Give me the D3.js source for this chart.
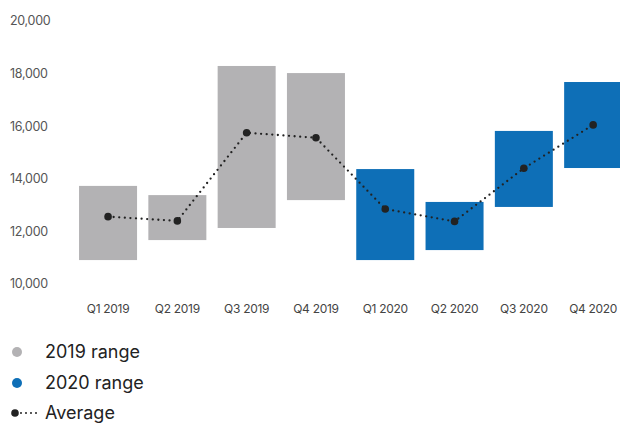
<!DOCTYPE html>
<html>
<head>
<meta charset="utf-8">
<script src="https://cdn.jsdelivr.net/npm/d3@7"></script>
<style>
  body { margin: 0; background: #fff; }
  svg { display: block; font-family: 'Inter', 'Open Sans', sans-serif; }
</style>
</head>
<body>
<div id="chart"></div>
<script>
'use strict';

const width = 620;
const height = 423;

// data
const quarters = ['Q1 2019', 'Q2 2019', 'Q3 2019', 'Q4 2019', 'Q1 2020', 'Q2 2020', 'Q3 2020', 'Q4 2020'];
const years = ['2019', '2019', '2019', '2019', '2020', '2020', '2020', '2020'];
const lows = [10910, 11670, 12130, 13190, 10910, 11290, 12930, 14410];
const highs = [13730, 13380, 18290, 18020, 14370, 13120, 15820, 17680];
const averages = [12560, 12400, 15750, 15560, 12850, 12380, 14400, 16050];
const yTicks = [10000, 12000, 14000, 16000, 18000, 20000];

const colors = { '2019': '#b3b2b4', '2020': '#0e6fb7' };

const rows = quarters.map((q, i) => ({ q, year: years[i], low: lows[i], high: highs[i], avg: averages[i] }));

const x = d3.scaleBand()
    .domain(quarters)
    .range([73.4, 627.8])
    .paddingInner(0.163)
    .paddingOuter(0.0815);

const y = d3.scaleLinear()
    .domain([10000, 20000])
    .range([284, 21]);

let svg = d3.select('#chart').append('svg')
    .attr('width', width)
    .attr('height', height);

// y tick labels (no axis line)
svg.append('g').selectAll('text')
    .data(yTicks)
    .enter().append('text')
    .attr('x', 10)
    .attr('y', d => y(d))
    .attr('dy', '0.35em')
    .attr('font-size', 12.5)
    .attr('fill', '#555')
    .attr('letter-spacing', '-0.3')
    .text(d3.format(','));

// range bars
svg.append('g').selectAll('rect')
    .data(rows)
    .enter().append('rect')
    .attr('x', d => x(d.q))
    .attr('width', x.bandwidth())
    .attr('y', d => y(d.high))
    .attr('height', d => y(d.low) - y(d.high))
    .attr('fill', d => colors[d.year]);

// x labels
svg.append('g').selectAll('text')
    .data(quarters)
    .enter().append('text')
    .attr('x', d => x(d) + x.bandwidth() / 2)
    .attr('y', 309)
    .attr('dy', '0.35em')
    .attr('text-anchor', 'middle')
    .attr('font-size', 12)
    .attr('fill', '#444')
    .attr('letter-spacing', '-0.3')
    .text(d => d);

// average line
const line = d3.line()
    .x(d => x(d.q) + x.bandwidth() / 2)
    .y(d => y(d.avg));

svg.append('path')
    .datum(rows)
    .attr('d', line)
    .attr('fill', 'none')
    .attr('stroke', '#222')
    .attr('stroke-width', 2.3)
    .attr('stroke-linecap', 'round')
    .attr('stroke-dasharray', '0 5.6');

svg.append('g').selectAll('circle')
    .data(rows)
    .enter().append('circle')
    .attr('cx', d => x(d.q) + x.bandwidth() / 2)
    .attr('cy', d => y(d.avg))
    .attr('r', 3.8)
    .attr('fill', '#222');

// legend
const legend = svg.append('g');
const legendItems = [
    { label: '2019 range', color: colors['2019'], y: 352 },
    { label: '2020 range', color: colors['2020'], y: 383 }
];

legendItems.forEach(item => {
    legend.append('circle')
        .attr('cx', 17)
        .attr('cy', item.y)
        .attr('r', 5)
        .attr('fill', item.color);
    legend.append('text')
        .attr('x', 45)
        .attr('y', item.y)
        .attr('dy', '0.35em')
        .attr('font-size', 18)
        .attr('fill', '#222')
        .text(item.label);
});

legend.append('circle')
    .attr('cx', 15)
    .attr('cy', 413)
    .attr('r', 3.8)
    .attr('fill', '#222');
legend.append('line')
    .attr('x1', 21).attr('x2', 39)
    .attr('y1', 413).attr('y2', 413)
    .attr('stroke', '#222')
    .attr('stroke-width', 2)
    .attr('stroke-linecap', 'round')
    .attr('stroke-dasharray', '0 5');
legend.append('text')
    .attr('x', 45)
    .attr('y', 413)
    .attr('dy', '0.35em')
    .attr('font-size', 18)
    .attr('fill', '#222')
    .text('Average');
</script>
</body>
</html>
